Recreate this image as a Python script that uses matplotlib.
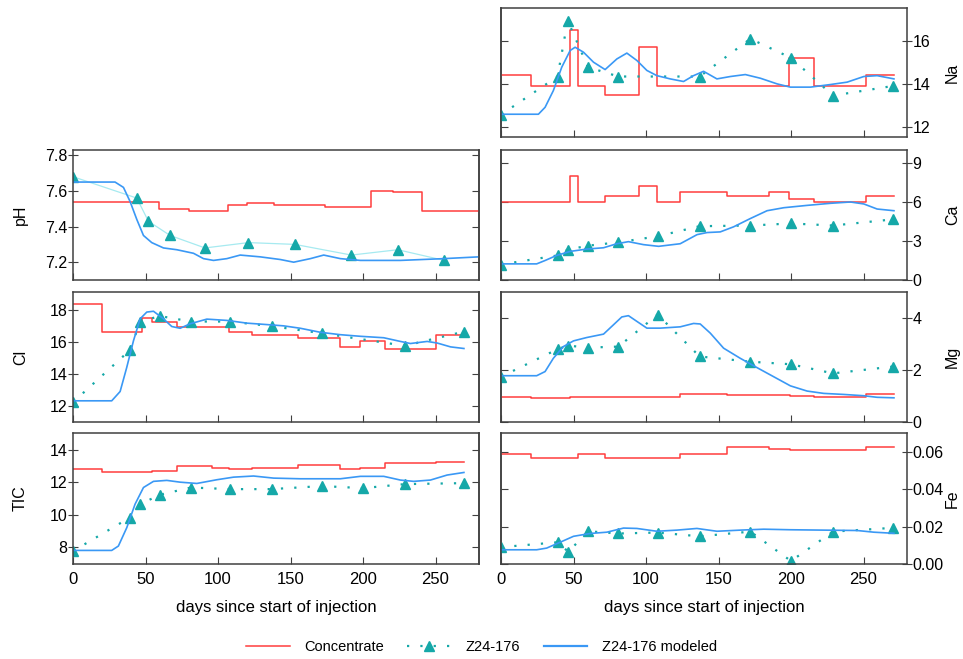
"""
Concentrate vs. observed vs. modeled water chemistry at Z24-176.
Saves out.png
"""
import matplotlib
matplotlib.use("Agg")
import matplotlib.pyplot as plt
from matplotlib.lines import Line2D
from matplotlib.ticker import FormatStrFormatter

plt.rcParams['font.family'] = ['Liberation Sans', 'DejaVu Sans']

# --------- DATA ---------

# Na
na_days = [0, 39, 46, 60, 81, 137, 172, 200, 229, 270]
na_obs = [12.58, 14.34, 16.92, 14.77, 14.34, 14.34, 16.08, 15.2, 13.46, 13.9]
na_conc_days = [0, 20.5, 47.6, 53.4, 71.8, 95.5, 107.5, 198.4, 215.7, 251.4, 271]
na_conc = [14.43, 13.9, 16.5, 13.9, 13.5, 15.7, 13.9, 15.2, 13.9, 14.43, 14.43]
na_mod_days = [0, 25.8, 30.4, 36.1, 41.9, 47.7, 51.1, 56.9, 63.8, 71.8, 79.9, 86.8, 93.7,
               100.6, 107.5, 116.7, 125.9, 132.8, 139.7, 148.9, 158.2, 168.5, 178.9, 190.4,
               199.6, 213.4, 227.2, 238.7, 250.2, 259.4, 271]
na_mod = [12.6, 12.6, 12.92, 13.69, 14.77, 15.54, 15.69, 15.46, 15.0, 14.66, 15.15, 15.42, 15.08,
          14.62, 14.38, 14.23, 14.11, 14.38, 14.58, 14.23, 14.34, 14.43, 14.26, 14.0,
          13.85, 13.85, 13.97, 14.08, 14.34, 14.38, 14.23]

# pH
ph_days = [0, 44, 52, 67, 91, 121, 153, 192, 224, 256]
ph_obs = [7.68, 7.56, 7.43, 7.35, 7.28, 7.31, 7.30, 7.24, 7.27, 7.21]
ph_conc_days = [0, 59.6, 80.3, 106.8, 120, 138.3, 174, 205.8, 221, 240.8, 280]
ph_conc = [7.54, 7.50, 7.49, 7.52, 7.53, 7.52, 7.51, 7.60, 7.595, 7.49, 7.49]
ph_mod_days = [0, 29, 34.8, 39.4, 44, 48.6, 54.3, 62.4, 71.6, 83.1, 90, 96.9, 106.1, 115.3,
               129.1, 143, 152.2, 163.7, 172.9, 184.4, 198.2, 225.8, 255.8, 280]
ph_mod = [7.65, 7.65, 7.62, 7.54, 7.44, 7.35, 7.31, 7.28, 7.27, 7.25, 7.22, 7.21, 7.22, 7.24,
          7.23, 7.215, 7.20, 7.22, 7.24, 7.22, 7.21, 7.21, 7.22, 7.23]

# Ca
ca_days = [0, 39, 46, 60, 81, 108, 137, 172, 200, 229, 270]
ca_obs = [1.19, 1.89, 2.33, 2.64, 2.90, 3.36, 4.14, 4.19, 4.35, 4.19, 4.66]
ca_conc_days = [0, 47.6, 53.4, 71.8, 95.5, 107.5, 123.6, 155.8, 184.6, 198.4, 215.7, 251.4, 271]
ca_conc = [6.0, 8.0, 6.0, 6.5, 7.25, 6.0, 6.8, 6.5, 6.8, 6.25, 6.0, 6.5, 6.5]
ca_mod_days = [0, 24.6, 30.4, 38.4, 47.7, 59.2, 70.7, 79.9, 87.9, 98.3, 108.7, 123.6, 135.2,
               142.1, 151.2, 160.4, 172, 183.5, 195, 211.1, 227.2, 241, 250.2, 259.4, 271]
ca_mod = [1.24, 1.24, 1.5, 1.89, 2.2, 2.38, 2.48, 2.79, 2.95, 2.72, 2.59, 2.79, 3.49,
          3.65, 3.70, 4.09, 4.73, 5.33, 5.56, 5.74, 5.9, 6.0, 5.85, 5.46, 5.33]

# Cl
cl_days = [0, 39.4, 46.3, 60, 81.3, 108, 137.2, 171.7, 228.8, 269.6]
cl_obs = [12.23, 15.49, 17.26, 17.6, 17.26, 17.26, 16.97, 16.53, 15.75, 16.63]
cl_conc_days = [0, 19.8, 47.4, 54.3, 71.6, 107.3, 123.4, 155.2, 184.4, 198.2, 215.5, 250, 269.6]
cl_conc = [18.35, 16.6, 17.5, 17.25, 16.95, 16.6, 16.45, 16.25, 15.7, 16.05, 15.55, 16.45, 16.45]
cl_mod_days = [0, 26.7, 32.5, 37, 41.7, 46.3, 50.9, 55.5, 62.4, 68.1, 73.9, 80.8, 92.3, 106.1,
               119.9, 133.7, 145.3, 156.8, 170.6, 184.4, 198.2, 214.3, 225.8, 232.7, 244.3,
               251.2, 260.4, 269.6]
cl_mod = [12.32, 12.32, 12.9, 14.38, 16.06, 17.43, 17.85, 17.9, 17.43, 16.95, 16.84, 17.12, 17.41,
          17.33, 17.16, 17.07, 16.99, 16.84, 16.59, 16.44, 16.34, 16.25, 16.02, 15.89, 16.02,
          15.92, 15.68, 15.58]

# Mg
mg_days = [0, 39, 46, 60, 81, 108, 137, 172, 200, 229, 270]
mg_obs = [1.74, 2.8, 2.94, 2.86, 2.90, 4.13, 2.52, 2.32, 2.22, 1.87, 2.13]
mg_conc_days = [0, 20.5, 47.6, 123.6, 155.8, 199.6, 215.7, 251.4, 271]
mg_conc = [0.95, 0.92, 0.95, 1.08, 1.05, 1.0, 0.95, 1.08, 1.08]
mg_mod_days = [0, 24.6, 30.4, 36.1, 43, 50, 59.2, 70.7, 77.6, 83.3, 87.9, 93.7, 100.6, 109.8,
               123.6, 132.8, 137.4, 144.3, 153.5, 165, 176.6, 188.1, 199.6, 211.1, 222.6,
               236.4, 250.2, 259.4, 271]
mg_mod = [1.78, 1.78, 1.94, 2.45, 2.9, 3.12, 3.25, 3.38, 3.74, 4.04, 4.09, 3.87, 3.61, 3.61,
          3.66, 3.79, 3.77, 3.42, 2.84, 2.45, 2.09, 1.74, 1.39, 1.19, 1.10,
          1.06, 1.01, 0.95, 0.93]

# TIC
tic_days = [0, 39.2, 46.3, 60, 81.3, 108, 137, 171.7, 200, 228.8, 269.6]
tic_obs = [7.75, 9.82, 10.65, 11.23, 11.68, 11.58, 11.58, 11.77, 11.64, 11.89, 11.95]
tic_conc_days = [0, 19.8, 54.3, 71.6, 95.8, 107.3, 123.4, 155.2, 184.4, 198.2, 215.5, 250, 269.6]
tic_conc = [12.82, 12.63, 12.72, 12.99, 12.86, 12.8, 12.9, 13.09, 12.82, 12.9, 13.19, 13.28, 13.28]
tic_mod_days = [0, 26.7, 31.3, 37.1, 42.8, 48.6, 55.5, 64.7, 73.9, 85.4, 99.2, 110.7, 124.5,
                138.4, 156.8, 184.4, 198.2, 214.3, 225.8, 235, 246.5, 258, 269.6]
tic_mod = [7.79, 7.79, 8.06, 9.2, 10.65, 11.68, 12.06, 12.12, 12.01, 11.93, 12.16, 12.32, 12.39,
           12.26, 12.22, 12.22, 12.37, 12.37, 12.14, 12.06, 12.14, 12.45, 12.61]

# Fe
fe_days = [0, 39, 46.5, 60, 81, 108, 137, 172, 200, 229, 270]
fe_obs = [0.0090, 0.0116, 0.0065, 0.0175, 0.0163, 0.0168, 0.0148, 0.0173, 0.0016, 0.0173, 0.0193]
fe_conc_days = [0, 20.5, 53.4, 71.8, 123.6, 155.8, 184.6, 199.6, 251.4, 271]
fe_conc = [0.0586, 0.0569, 0.0587, 0.0569, 0.0587, 0.0623, 0.0616, 0.0607, 0.0623, 0.0623]
fe_mod_days = [0, 24.6, 31.5, 40.7, 50, 61.5, 73, 84.5, 93.7, 107.5, 121.3, 135.1, 148.9,
               165, 181.2, 199.6, 222.6, 245.6, 257.1, 271]
fe_mod = [0.0076, 0.0076, 0.0085, 0.0116, 0.0148, 0.0163, 0.017, 0.0192, 0.019, 0.0175, 0.0181,
          0.019, 0.0175, 0.0181, 0.0186, 0.0183, 0.0181, 0.0179, 0.017, 0.0164]

# --------- STYLE ---------

RED = '#ff3d3d'
BLUE = '#3a98f5'
TEAL = '#15a8a8'
LIGHT = '#a6eaf0'
SPINE = '#404040'
DOTS = (0, (1, 5))

W, H = 963, 659
COL_X = {'left': 73, 'right': 501}
AX_W = 406
ROWS = [(8, 137), (150, 280), (292, 422), (433, 564)]  # top/bottom in px


def make_axes(side, row):
    top, bot = ROWS[row]
    return fig.add_axes([COL_X[side] / W, 1 - bot / H, AX_W / W, (bot - top) / H])


def draw_panel(ax, side, label, conc, obs, mod, ylim, yticks, bottom=False, obs_line='dots', fmt=None):
    ax.plot(conc[0], conc[1], color=RED, lw=1.1, drawstyle='steps-post')
    if obs_line == 'dots':
        ax.plot(obs[0], obs[1], color=TEAL, lw=1.6, ls=DOTS)
    else:
        ax.plot(obs[0], obs[1], color=LIGHT, lw=0.9)
    ax.plot(obs[0], obs[1], ls='none', marker='^', ms=6.5, color=TEAL)
    ax.plot(mod[0], mod[1], color=BLUE, lw=1.2)

    ax.set_xlim(0, 280)
    ax.set_xticks(range(0, 251, 50))
    ax.set_ylim(*ylim)
    ax.set_yticks(yticks)
    if fmt:
        ax.yaxis.set_major_formatter(FormatStrFormatter(fmt))

    for s in ax.spines.values():
        s.set_color(SPINE)
        s.set_linewidth(1.1)
    ax.tick_params(axis='x', direction='in', length=5, color=SPINE, labelsize=12,
                   labelbottom=bottom, pad=6)
    ax.yaxis.set_ticks_position(side)
    ax.yaxis.set_label_position(side)
    ax.tick_params(axis='y', direction='inout', length=7, color=SPINE, labelsize=11.5, pad=0.5)

    # inward ticks on the other side
    other = 'right' if side == 'left' else 'left'
    sec = ax.secondary_yaxis(other)
    sec.set_yticks(yticks)
    sec.tick_params(direction='in', length=5, color=SPINE, labelleft=False, labelright=False)
    sec.spines[other].set_color(SPINE)
    sec.spines[other].set_linewidth(1.1)

    ax.set_ylabel(label, fontsize=11.5)
    if side == 'left':
        ax.yaxis.set_label_coords((28 - 73) / AX_W, 0.5)
    else:
        ax.yaxis.set_label_coords((945 - 501) / AX_W, 0.5)
    if bottom:
        ax.set_xlabel('days since start of injection', fontsize=12, labelpad=9)


# --------- PLOT ---------

fig = plt.figure(figsize=(W / 100, H / 100), dpi=100)

draw_panel(make_axes('right', 0), 'right', 'Na',
           (na_conc_days, na_conc), (na_days, na_obs), (na_mod_days, na_mod),
           (11.55, 17.5), [12, 14, 16])
draw_panel(make_axes('left', 1), 'left', 'pH',
           (ph_conc_days, ph_conc), (ph_days, ph_obs), (ph_mod_days, ph_mod),
           (7.1, 7.83), [7.2, 7.4, 7.6, 7.8], obs_line='solid', fmt='%.1f')
draw_panel(make_axes('right', 1), 'right', 'Ca',
           (ca_conc_days, ca_conc), (ca_days, ca_obs), (ca_mod_days, ca_mod),
           (0, 10), [0, 3, 6, 9])
draw_panel(make_axes('left', 2), 'left', 'Cl',
           (cl_conc_days, cl_conc), (cl_days, cl_obs), (cl_mod_days, cl_mod),
           (11, 19.1), [12, 14, 16, 18])
draw_panel(make_axes('right', 2), 'right', 'Mg',
           (mg_conc_days, mg_conc), (mg_days, mg_obs), (mg_mod_days, mg_mod),
           (0, 5), [0, 2, 4])
draw_panel(make_axes('left', 3), 'left', 'TIC',
           (tic_conc_days, tic_conc), (tic_days, tic_obs), (tic_mod_days, tic_mod),
           (6.95, 15.05), [8, 10, 12, 14], bottom=True)
draw_panel(make_axes('right', 3), 'right', 'Fe',
           (fe_conc_days, fe_conc), (fe_days, fe_obs), (fe_mod_days, fe_mod),
           (0, 0.07), [0, 0.02, 0.04, 0.06], bottom=True, fmt='%.2f')

handles = [Line2D([], [], color=RED, lw=1.1),
           Line2D([], [], color=TEAL, lw=1.6, ls=DOTS, marker='^', ms=6.5),
           Line2D([], [], color=BLUE, lw=1.6)]
fig.legend(handles, ['Concentrate', 'Z24-176', 'Z24-176 modeled'], loc='center',
           bbox_to_anchor=(0.5, 0.018), ncol=3, frameon=False, fontsize=10.5,
           handlelength=3, handletextpad=1, columnspacing=1.6, numpoints=1)

fig.savefig('out.png', dpi=100)
